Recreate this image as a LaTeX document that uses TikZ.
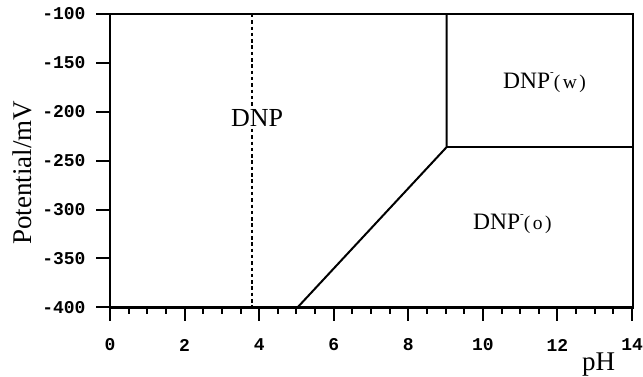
\documentclass[tikz,border=0pt]{standalone}
\usepackage{fontspec}
\setmainfont{Liberation Serif}
\newfontfamily\tickfamily{Liberation Mono}
\usetikzlibrary{positioning,calc}
\tikzset{
  frame/.style    = {draw=black, line width=2.3pt},
  bound/.style    = {draw=black, line width=2pt},
  dotbound/.style = {draw=black, line width=2pt, dash pattern=on 3.5pt off 2.8pt},
  tickln/.style   = {draw=black, line width=2pt},
  ticklbl/.style  = {font=\tickfamily\bfseries\fontsize{18}{18}\selectfont, inner sep=0pt},
  axlbl/.style    = {font=\fontsize{27}{27}\selectfont, inner sep=0pt},
  region/.style   = {font=\fontsize{23.5}{23.5}\selectfont, inner sep=0pt, anchor=base west},
}
\newcommand{\phasename}[1]{DNP\raisebox{0.55em}{\fontsize{11}{11}\selectfont -}{\fontsize{19.5}{19.5}\selectfont (\hspace{2.5pt}#1\hspace{2.5pt})}}

\begin{document}
\begin{tikzpicture}
  \useasboundingbox (0,0) rectangle (643pt,377pt);

  % axis titles
  \node[axlbl, rotate=90] (ylab) at (22pt,204pt) {Potential/mV};
  \node[axlbl, anchor=base west] (xlab) at (582pt,6.5pt) {pH};

  % regions
  \node[region, font=\fontsize{26}{26}\selectfont, inner ysep=2pt] (neutral) at (231pt,250.3pt) {DNP};
  \node[region] (water) at (503pt,288.7pt) {\phasename{w}};
  \node[region] (organic) at (473pt,147pt) {\phasename{o}};

  \begin{scope}[x=37.29pt, y=0.978pt, shift={(110pt,460.8pt)}]
    % plot frame
    \draw[frame] (0,-400) rectangle (14.03,-100);

    % potential axis
    \foreach \v in {-100,-150,...,-400} {
      \draw[tickln] (0,\v) -- ++(-14.5pt,0) node[ticklbl, anchor=east, xshift=-9pt] {\v};
    }

    % pH axis
    \foreach \p in {0,0.5,...,14} {
      \draw[tickln] (\p,-400) -- ++(0,-7pt);
    }
    \foreach \p in {0,2,...,14} {
      \draw[tickln] (\p,-400) -- ++(0,-14pt);
      \node[ticklbl] (ph\p) at ($(\p,-400)+(0,-37.6pt)$) {\p};
    }

    % phase boundaries
    \coordinate (dtop) at (3.82,-100);
    \coordinate (dbot) at (3.82,-400);
    \coordinate (foot) at (5.03,-400);
    \coordinate (vtx)  at (9.03,-236);
    \coordinate (vtop) at (9.03,-100);
    \coordinate (hend) at (14.03,-236);
    \draw[dotbound] (dtop) -- (dtop |- neutral.north);
    \draw[dotbound] (dtop |- neutral.south) -- (dbot);
    \draw[bound] (foot) -- (vtx) -- (vtop);
    \draw[bound] (vtx) -- (hend);
  \end{scope}
\end{tikzpicture}
\end{document}
